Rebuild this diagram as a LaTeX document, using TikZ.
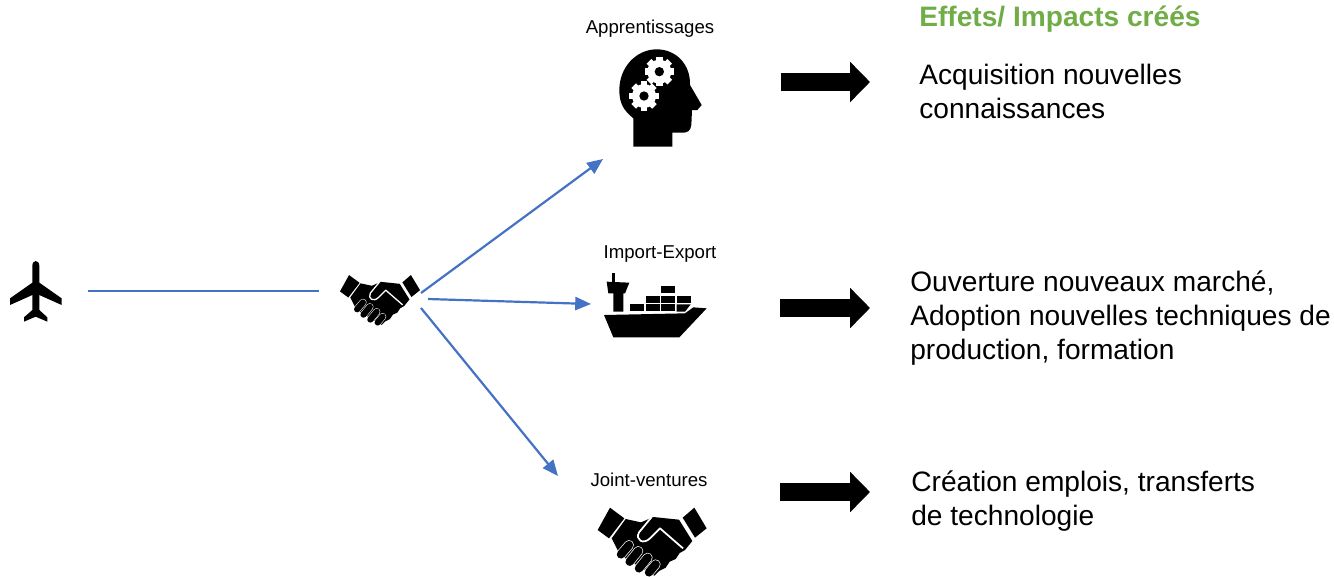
\documentclass[tikz,border=0pt]{standalone}
\usepackage{fontspec}
\setmainfont{Liberation Sans}
\usetikzlibrary{arrows.meta}
\definecolor{linkblue}{HTML}{4472C4}
\definecolor{titlegreen}{HTML}{70AD47}
\tikzset{
	link/.style={draw=linkblue,line width=1.25pt},
	linkarrow/.style={link,-{Triangle[length=9pt,width=7.5pt]}},
	blockarrow/.style={line width=10.5pt,-{Triangle[length=11.3pt,width=22.3pt]}},
	effect/.style={anchor=west,align=left,inner sep=0pt,font=\fontsize{16}{19.3}\selectfont},
	caption/.style={inner sep=0pt,font=\fontsize{10.6}{12}\selectfont},
	pics/planeicon/.style={code={
		\begin{scope}[scale=1/3]
			\fill (97,230)--(97,78) .. controls (97,68) and (102,63) .. (107,63)
				.. controls (112,63) and (118,68) .. (118,78)--(118,230)--cycle;
			\fill (97,128)--(30,175)--(30,195)--(97,165)--(118,165)--(185,195)--(185,175)--(118,128)--cycle;
			\fill (97,210)--(72,232)--(72,245)--(107,230)--(142,245)--(142,232)--(118,210)--cycle;
		\end{scope}
	}},
	pics/shakeicon/.style={code={
		\begin{scope}[scale=#1/3]
			% Cuffs
			\fill (75,38)--(118,70)--(72,130)--(38,105)--cycle;
			\fill (328,38)--(365,100)--(330,128)--(293,68)--cycle;
			% Hands
			\fill (122,72)--(168,82)--(205,66)--(282,74)--(322,138)--(300,165)--(284,174)--(272,192)--(254,200)--(242,218)--(222,228)--(208,242)--(105,180)--(80,130)--cycle;
			\draw[white,line width=#1*1pt,line join=round]
				(200,66)--(162,112) .. controls (150,135) and (175,150) .. (195,130)--(225,100)--(294,160);
			% Fingers
			\foreach \xa/\ya/\xb/\yb in {108/178/132/150,134/200/160/168,162/220/188/188,192/232/212/208}{
				\draw[white,line width=#1*5.6pt,line cap=round] (\xa,\ya)--(\xb,\yb);
			}
			\foreach \xa/\ya/\xb/\yb in {108/178/132/150,134/200/160/168,162/220/188/188,192/232/212/208}{
				\draw[line width=#1*4.8pt,line cap=round] (\xa,\ya)--(\xb,\yb);
			}
		\end{scope}
	}},
	pics/headicon/.style={code={
		\begin{scope}[scale=1/3]
			\fill (100,320)--(100,235) .. controls (70,210) and (58,190) .. (58,150)
				.. controls (58,80) and (110,28) .. (170,28)
				.. controls (230,28) and (272,75) .. (270,135)
				--(305,195)--(292,210)--(276,210)--(274,255)
				.. controls (272,272) and (262,278) .. (250,278)
				--(217,278)--(217,320)--cycle;
			% Gears
			\foreach \cx/\cy in {178/95,132/168}{
				\fill[white] (\cx,\cy) circle (36);
				\foreach \a in {0,45,...,315}{
					\fill[white,shift={(\cx,\cy)},rotate=\a] (-10,-44) rectangle (10,0);
				}
				\fill (\cx,\cy) circle (14);
			}
		\end{scope}
	}},
	pics/shipicon/.style={code={
		\begin{scope}[scale=1/3]
			% Hull
			\fill (42,165)--(285,160)--(310,142)--(350,145)--(268,232)--(70,232)--cycle;
			% Bridge
			\fill (65,38) rectangle (76,70);
			\fill (50,65)--(118,68)--(105,100)--(100,100)--(100,155)--(70,155)--(70,100)--(55,100)--cycle;
			% Containers
			\foreach \xa/\ya in {120/133,168/133,213/133,168/107,213/107,262/107,213/78}{
				\fill (\xa,\ya) rectangle ++(41,21);
			}
			\fill (260,133)--(302,133)--(285,155)--(260,155)--cycle;
		\end{scope}
	}}
}
\begin{document}
\begin{tikzpicture}[x=0.02cm,y=-0.02cm]
\useasboundingbox (0,0) rectangle (1334,576);

%----------------------------
% Left: plane and handshake
%----------------------------
\pic at (0,240) {planeicon};
\pic at (330.7,265.7) {shakeicon=0.734};
\node[minimum width=104*0.02cm,inner sep=0pt] (plane) at (36,291) {};
\node[minimum width=102*0.02cm,inner sep=0pt] (shake) at (370,291) {};
\draw[link] (plane.east)--(shake.west);

%----------------------------
% Middle: three channels
%----------------------------
\pic at (600,40) {headicon};
\pic at (590,260) {shipicon};
\pic at (585,495) {shakeicon=1};
\node[caption] (learn) at (650,28.5) {Apprentissages};
\node[caption] (trade) at (660,254.5) {Import-Export};
\node[caption] (joint) at (649,480) {Joint-ventures};

% Blue links
\coordinate (learnfrom) at (421,293);
\coordinate (learnto) at (603,159);
\coordinate (tradefrom) at (428,299);
\coordinate (tradeto) at (591,304);
\coordinate (jointfrom) at (421,308);
\coordinate (jointto) at (558,476);
\draw[linkarrow] (learnfrom)--(learnto);
\draw[linkarrow] (tradefrom)--(tradeto);
\draw[linkarrow] (jointfrom)--(jointto);

%----------------------------
% Right: effects
%----------------------------
\node[effect,font=\fontsize{16}{19.3}\selectfont\bfseries,text=titlegreen] (title) at (919,19.5) {Effets/ Impacts créés};
\node[effect] (effecta) at (919,91.5) {Acquisition nouvelles\\connaissances};
\node[effect] (effectb) at (910,317.8) {Ouverture nouveaux marché,\\Adoption nouvelles techniques de\\production, formation};
\node[effect] (effectc) at (911,501.5) {Création emplois, transferts\\de technologie};

% Block arrows
\coordinate (blockaa) at (781,82);
\coordinate (blockab) at (870,82);
\coordinate (blockba) at (780,308);
\coordinate (blockbb) at (870,308);
\coordinate (blockca) at (780,492);
\coordinate (blockcb) at (870,492);
\draw[blockarrow] (blockaa)--(blockab);
\draw[blockarrow] (blockba)--(blockbb);
\draw[blockarrow] (blockca)--(blockcb);
\end{tikzpicture}
\end{document}
